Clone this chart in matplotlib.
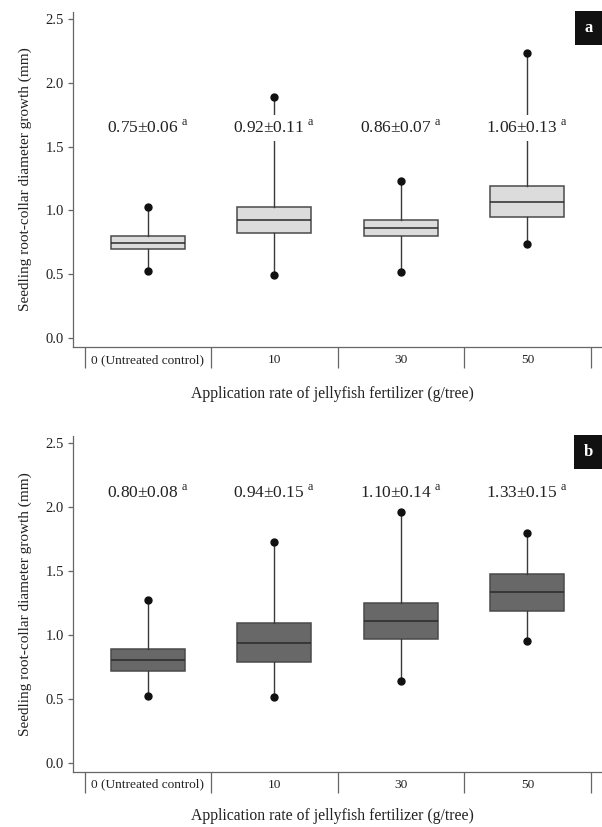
import matplotlib
matplotlib.use("Agg")
import matplotlib.pyplot as plt

plt.rcParams['font.family'] = ['Liberation Serif', 'DejaVu Serif']
plt.rcParams['mathtext.fontset'] = 'custom'
plt.rcParams['mathtext.rm'] = 'Liberation Serif'

# categories and box statistics
categories = ['0 (Untreated control)', '10', '30', '50']

# panel a
a_low = [0.527, 0.494, 0.515, 0.734]
a_q1 = [0.695, 0.820, 0.800, 0.946]
a_med = [0.747, 0.925, 0.865, 1.068]
a_q3 = [0.800, 1.024, 0.925, 1.190]
a_high = [1.024, 1.890, 1.233, 2.236]
a_labels = ['0.75±0.06', '0.92±0.11', '0.86±0.07', '1.06±0.13']

# panel b
b_low = [0.526, 0.516, 0.643, 0.958]
b_q1 = [0.720, 0.790, 0.969, 1.190]
b_med = [0.805, 0.940, 1.110, 1.336]
b_q3 = [0.890, 1.094, 1.255, 1.480]
b_high = [1.276, 1.730, 1.966, 1.800]
b_labels = ['0.80±0.08', '0.94±0.15', '1.10±0.14', '1.33±0.15']

W, H = 602, 827
fig = plt.figure(figsize=(W / 100, H / 100), dpi=100)

spine_col = '#666666'


def panel(rect, low, q1, med, q3, high, labels, face, letter, text_y, ylim, xlab_y):
    ax = fig.add_axes(rect)
    stats = []
    for i in range(len(categories)):
        stats.append({'whislo': low[i], 'q1': q1[i], 'med': med[i],
                      'q3': q3[i], 'whishi': high[i], 'fliers': []})
    pos = list(range(len(categories)))
    ax.bxp(stats, positions=pos, widths=0.585, showcaps=False, patch_artist=True,
           boxprops=dict(facecolor=face, edgecolor='#4a4a4a', linewidth=1.1),
           medianprops=dict(color='#2a2a2a', linewidth=1.1),
           whiskerprops=dict(color='#3a3a3a', linewidth=1.0), zorder=2)
    ax.plot(pos, low, 'o', color='#111111', markersize=5, zorder=3)
    ax.plot(pos, high, 'o', color='#111111', markersize=5, zorder=3)

    for i, lab in enumerate(labels):
        ax.text(pos[i], text_y, lab + r' $^{\mathrm{a}}$', ha='center', va='center',
                fontsize=12.5, color='#222222', zorder=4,
                bbox=dict(facecolor='white', edgecolor='none', pad=3))

    ax.set_xlim(-0.593, 3.59)
    ax.set_ylim(*ylim)
    ax.set_yticks([0.0, 0.5, 1.0, 1.5, 2.0, 2.5])
    ax.set_yticklabels(['0.0', '0.5', '1.0', '1.5', '2.0', '2.5'])
    ax.set_xticks(pos)
    ax.set_xticklabels(categories)
    ax.set_xticks([-0.5, 0.5, 1.5, 2.5, 3.5], minor=True)
    ax.tick_params(axis='x', which='major', length=0, pad=5, labelsize=9.6, colors='#222222')
    ax.tick_params(axis='x', which='minor', length=15, width=0.9, color=spine_col)
    ax.tick_params(axis='y', length=3.5, width=0.9, pad=3, labelsize=10.5,
                   color=spine_col, labelcolor='#222222')

    for s in ['top', 'right']:
        ax.spines[s].set_visible(False)
    for s in ['left', 'bottom']:
        ax.spines[s].set_color(spine_col)
        ax.spines[s].set_linewidth(0.9)

    ax.set_ylabel('Seedling root-collar diameter growth (mm)', fontsize=11, color='#222222')
    ax.yaxis.set_label_coords(-0.0775, 0.5)
    ax.set_xlabel('Application rate of jellyfish fertilizer (g/tree)', fontsize=11.3,
                  color='#222222')
    ax.xaxis.set_label_coords(0.49, xlab_y)

    ax.text(0.974, 0.952, letter, transform=ax.transAxes, ha='center', va='center',
            fontsize=12, fontweight='bold', color='white',
            bbox=dict(boxstyle='square,pad=0.55', facecolor='#111111', edgecolor='none'))
    return ax


panel([73 / W, 1 - 347 / H, 529 / W, 335 / H], a_low, a_q1, a_med, a_q3, a_high,
      a_labels, '#dcdcdc', 'a', 1.645, (-0.0705, 2.555), -0.115)
panel([73 / W, 1 - 771.7 / H, 529 / W, 335.7 / H], b_low, b_q1, b_med, b_q3, b_high,
      b_labels, '#686868', 'b', 2.11, (-0.0656, 2.557), -0.107)

fig.savefig('out.png', dpi=100)
